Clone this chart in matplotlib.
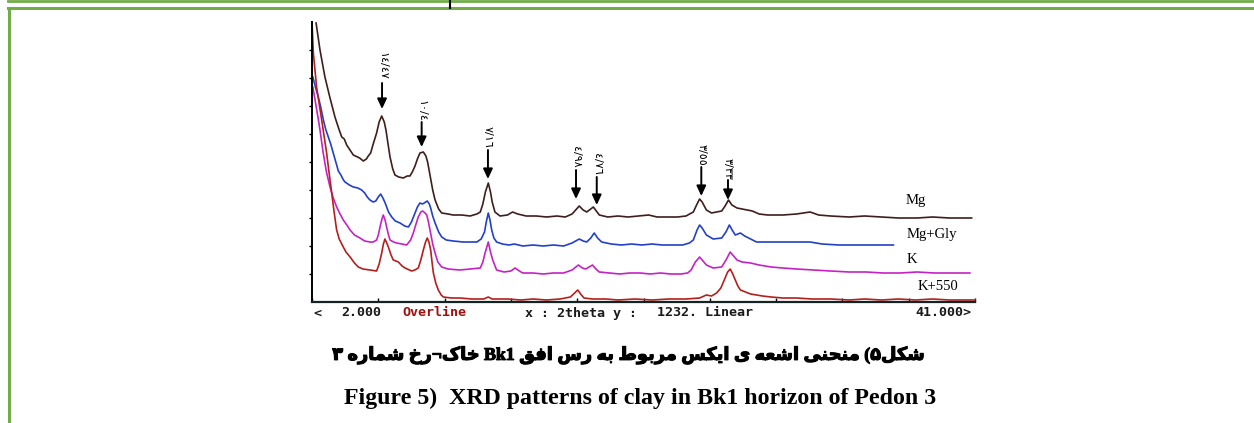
import matplotlib
matplotlib.use("Agg")
import matplotlib.pyplot as plt
from matplotlib.lines import Line2D
import matplotlib.patheffects as pe

# 2theta / intensity (intensity in screen units, 0 = x axis)
mg_tth = [2.24, 2.47, 2.76, 3.06, 3.35, 3.6, 3.75, 3.9, 4.04, 4.43, 4.8, 5.02, 5.2, 5.31, 5.45, 5.6,
          5.8, 5.95, 6.1, 6.25, 6.35, 6.5, 6.59, 6.75, 6.88, 7.1, 7.37, 7.6, 7.76, 7.9, 8.06, 8.2,
          8.35, 8.55, 8.7, 8.8, 8.94, 9.1, 9.24, 9.45, 9.63, 10.0, 10.3, 10.8, 11.3, 11.7, 11.9, 12.05,
          12.2, 12.37, 12.5, 12.6, 12.76, 13.06, 13.5, 13.8, 14.1, 14.6, 15.2, 15.8, 16.4, 16.9, 17.3,
          17.72, 17.95, 18.16, 18.55, 18.9, 19.4, 20.0, 20.6, 21.2, 21.8, 22.3, 22.9, 23.5, 24.0, 24.43,
          24.65, 24.8, 24.95, 25.2, 25.5, 25.8, 26.1, 26.3, 26.5, 26.7, 27.0, 27.3, 27.6, 27.9, 28.3,
          28.8, 29.7, 30.5, 31.3, 31.8, 32.5, 33.6, 34.5, 35.5, 36.5, 37.6, 38.5, 39.5, 40.5, 40.8]
mg_int = [279, 252, 225, 204, 185, 172, 165, 163, 157, 147, 144, 141, 143, 146, 149, 158,
          169, 180, 186, 180, 172, 155, 145, 133, 127, 125, 124, 126, 126, 130, 136, 143,
          149, 150, 146, 140, 127, 112, 102, 93, 89, 88, 87, 87, 86, 88, 90, 98,
          110, 119, 110, 100, 90, 86, 87, 90, 88, 86, 86, 85, 86, 85, 88,
          96, 92, 90, 95, 87, 85, 86, 85, 86, 87, 85, 85, 85, 86, 90,
          98, 103, 100, 92, 89, 90, 91, 96, 102, 97, 94, 93, 92, 91, 88,
          87, 87, 88, 90, 87, 86, 85, 86, 85, 84, 84, 85, 84, 84, 84]

gly_tth = [2.05, 2.2, 2.37, 2.5, 2.67, 2.8, 2.96, 3.1, 3.25, 3.4, 3.55, 3.7, 3.85, 3.94, 4.2, 4.43,
           4.7, 4.92, 5.1, 5.25, 5.41, 5.6, 5.75, 5.9, 6.04, 6.2, 6.35, 6.5, 6.69, 6.9, 7.18, 7.45,
           7.67, 7.85, 8.06, 8.2, 8.35, 8.5, 8.6, 8.78, 8.9, 8.98, 9.1, 9.24, 9.45, 9.63, 9.9, 10.3,
           10.9, 11.4, 11.7, 11.95, 12.15, 12.25, 12.37, 12.47, 12.57, 12.7, 12.86, 13.2, 13.6, 13.9,
           14.4, 15.0, 15.6, 16.2, 16.8, 17.3, 17.72, 17.95, 18.16, 18.4, 18.6, 18.8, 19.04, 19.6,
           20.2, 20.8, 21.4, 22.0, 22.6, 23.2, 23.8, 24.2, 24.43, 24.65, 24.8, 24.95, 25.2, 25.6,
           26.1, 26.35, 26.55, 26.75, 26.9, 27.2, 27.45, 27.8, 28.15, 29.0, 30.0, 31.3, 32.0, 33.0,
           34.0, 35.0, 36.2]
gly_int = [225, 215, 205, 196, 182, 173, 165, 158, 149, 140, 131, 127, 122, 120, 117, 115,
           114, 112, 109, 105, 102, 100, 101, 105, 108, 103, 97, 90, 85, 81, 79, 76,
           75, 80, 89, 95, 99, 98, 99, 101, 98, 94, 86, 79, 70, 65, 62, 61,
           60, 60, 60, 63, 70, 80, 89, 82, 72, 64, 60, 58, 57, 58,
           56, 57, 56, 57, 56, 59, 63, 61, 60, 64, 69, 64, 60, 58,
           57, 58, 57, 58, 57, 57, 57, 59, 62, 72, 77, 74, 67, 63,
           64, 70, 77, 71, 67, 69, 66, 63, 60, 60, 60, 60, 58, 57,
           57, 57, 57]

k_tth = [2.05, 2.2, 2.35, 2.47, 2.65, 2.85, 3.06, 3.25, 3.45, 3.65, 3.84, 4.05, 4.24, 4.5, 4.82, 5.1,
         5.41, 5.6, 5.8, 5.9, 6.0, 6.1, 6.19, 6.3, 6.39, 6.5, 6.59, 6.8, 6.98, 7.3, 7.57, 7.8,
         7.96, 8.1, 8.25, 8.4, 8.51, 8.65, 8.75, 8.85, 8.94, 9.1, 9.24, 9.4, 9.63, 10.0, 10.7, 11.3,
         11.9, 12.05, 12.18, 12.37, 12.5, 12.63, 12.86, 13.3, 13.7, 13.94, 14.2, 14.4, 15.0, 15.6,
         16.2, 16.8, 17.3, 17.67, 17.9, 18.1, 18.3, 18.5, 18.7, 18.9, 19.5, 20.1, 20.7, 21.3, 21.9,
         22.5, 23.1, 23.7, 24.1, 24.3, 24.55, 24.8, 25.0, 25.2, 25.6, 26.1, 26.35, 26.6, 26.8, 27.0,
         27.3, 27.8, 28.3, 29.0, 29.7, 30.5, 31.5, 32.5, 33.6, 34.6, 35.6, 36.6, 37.6, 38.6, 39.6, 40.7]
k_int = [215, 200, 185, 172, 150, 130, 115, 104, 95, 88, 82, 77, 72, 67, 64, 61,
         60, 60, 62, 67, 75, 82, 87, 82, 75, 67, 62, 60, 59, 58, 57, 62,
         69, 77, 85, 90, 91, 89, 87, 80, 72, 58, 49, 40, 35, 33, 32, 33,
         34, 40, 49, 60, 50, 42, 32, 30, 31, 34, 31, 29, 29, 28,
         29, 29, 32, 37, 34, 33, 35, 37, 33, 30, 29, 28, 29, 29, 28,
         29, 28, 28, 29, 32, 40, 45, 41, 37, 34, 35, 42, 50, 46, 42,
         40, 39, 37, 35, 34, 33, 32, 31, 30, 30, 29, 29, 30, 29, 29, 29]

k550_tth = [2.0, 2.08, 2.27, 2.57, 2.86, 3.0, 3.16, 3.3, 3.45, 3.6, 3.84, 4.0, 4.24, 4.5, 4.72, 5.0,
            5.41, 5.8, 5.95, 6.1, 6.2, 6.29, 6.4, 6.49, 6.65, 6.78, 7.08, 7.3, 7.47, 7.86, 8.05, 8.25,
            8.4, 8.55, 8.68, 8.78, 8.88, 8.98, 9.06, 9.14, 9.28, 9.43, 9.6, 9.73, 10.2, 10.7, 11.4,
            12.1, 12.37, 12.6, 12.86, 13.5, 14.3, 15.0, 15.8, 16.6, 17.2, 17.45, 17.63, 17.8, 18.0,
            18.5, 19.3, 20.0, 21.0, 22.0, 23.0, 24.0, 24.8, 25.2, 25.5, 25.8, 26.05, 26.25, 26.45,
            26.6, 26.75, 26.9, 27.05, 27.2, 27.5, 27.8, 28.5, 29.0, 29.7, 30.5, 31.4, 32.5, 33.6,
            34.5, 35.5, 36.5, 37.5, 38.5, 39.5, 40.5, 41.0]
k550_int = [280, 249, 215, 182, 149, 130, 109, 90, 72, 63, 55, 50, 45, 39, 35, 33,
            32, 31, 38, 49, 58, 63, 59, 55, 47, 42, 40, 36, 34, 31, 32, 34,
            42, 52, 60, 64, 60, 52, 40, 29, 19, 12, 7, 5, 4, 4, 3,
            3, 5, 3, 3, 3, 2, 3, 2, 3, 5, 9, 12, 8, 4,
            3, 3, 2, 3, 2, 3, 3, 4, 7, 6, 9, 14, 22, 30,
            33, 28, 22, 16, 12, 10, 8, 6, 5, 4, 4, 3, 3, 2,
            3, 2, 3, 2, 3, 2, 2, 2]

series_names = ["Mg", "Mg+Gly", "K", "K+550"]
series_colors = ["#3e1f1d", "#2340c8", "#c423c4", "#b3201e"]
name_x = [36.9, 36.95, 36.95, 37.6]
name_y = [102, 68, 43, 16]

# d-spacings (Persian labels) and arrow positions: 2theta, tail, tip
peak_labels = ["١٤/٤٧", "١٠/٤", "٧/١٦", "٤/٩٨", "٤/٧٦", "٣/٥٥", "٣/٣٣"]
peak_tth = [6.12, 8.45, 12.35, 17.53, 18.75, 24.9, 26.47]
arrow_tail = [219, 180, 152, 132, 125, 135, 122]
arrow_tip = [193, 155, 123, 103, 97, 106, 102]
label_y = [236, 191, 165, 145, 138, 147, 133]

caption_fa = "شکل۵) منحنی اشعه ی ایکس مربوط به رس افق Bk1 خاک¬رخ شماره ۳"
caption_en = "Figure 5)  XRD patterns of clay in Bk1 horizon of Pedon 3"

# minimal arabic shaping: isolated, final, initial, medial
FORMS = {
    "ا": ("\uFE8D", "\uFE8E", None, None),
    "ب": ("\uFE8F", "\uFE90", "\uFE91", "\uFE92"),
    "ح": ("\uFEA1", "\uFEA2", "\uFEA3", "\uFEA4"),
    "خ": ("\uFEA5", "\uFEA6", "\uFEA7", "\uFEA8"),
    "ر": ("\uFEAD", "\uFEAE", None, None),
    "س": ("\uFEB1", "\uFEB2", "\uFEB3", "\uFEB4"),
    "ش": ("\uFEB5", "\uFEB6", "\uFEB7", "\uFEB8"),
    "ط": ("\uFEC1", "\uFEC2", "\uFEC3", "\uFEC4"),
    "ع": ("\uFEC9", "\uFECA", "\uFECB", "\uFECC"),
    "ف": ("\uFED1", "\uFED2", "\uFED3", "\uFED4"),
    "ق": ("\uFED5", "\uFED6", "\uFED7", "\uFED8"),
    "ل": ("\uFEDD", "\uFEDE", "\uFEDF", "\uFEE0"),
    "م": ("\uFEE1", "\uFEE2", "\uFEE3", "\uFEE4"),
    "ن": ("\uFEE5", "\uFEE6", "\uFEE7", "\uFEE8"),
    "ه": ("\uFEE9", "\uFEEA", "\uFEEB", "\uFEEC"),
    "و": ("\uFEED", "\uFEEE", None, None),
    "ک": ("\uFB8E", "\uFB8F", "\uFB90", "\uFB91"),
    "ی": ("\uFBFC", "\uFBFD", "\uFBFE", "\uFBFF"),
}
MIRROR = str.maketrans("()", ")(")


def shape_word(word):
    out = []
    for i, ch in enumerate(word):
        f = FORMS.get(ch)
        if f is None:
            out.append(ch)
            continue
        prev = word[i - 1] if i > 0 else ""
        nxt = word[i + 1] if i + 1 < len(word) else ""
        jp = prev in FORMS and FORMS[prev][2] is not None
        jn = f[2] is not None and nxt in FORMS
        if jp and jn:
            out.append(f[3])
        elif jp:
            out.append(f[1])
        elif jn:
            out.append(f[2])
        else:
            out.append(f[0])
    return "".join(out)


def rtl(text):
    vis = []
    for w in text.split(" "):
        if w.isascii():
            vis.append(w)
        else:
            vis.append(shape_word(w)[::-1].translate(MIRROR))
    return " ".join(reversed(vis))


W, H = 1254, 423
fig = plt.figure(figsize=(W / 100, H / 100), dpi=100)


def fx(px):
    return px / W


def fy(py):
    return 1 - py / H


ax = fig.add_axes([fx(312), fy(302), fx(975) - fx(312), fy(22) - fy(302)])
ax.set_xlim(2, 41)
ax.set_ylim(0, 280)

all_tth = [mg_tth, gly_tth, k_tth, k550_tth]
all_int = [mg_int, gly_int, k_int, k550_int]
for tth, inten, c in zip(all_tth, all_int, series_colors):
    ax.plot(tth, inten, color=c, lw=1.2, clip_on=False)

for name, x, y in zip(series_names, name_x, name_y):
    ax.text(x, y, name, family="Liberation Serif", fontsize=10.5, va="center", ha="left")

for lab, x, t0, t1, ly in zip(peak_labels, peak_tth, arrow_tail, arrow_tip, label_y):
    ax.annotate("", xy=(x, t1), xytext=(x, t0),
                arrowprops=dict(arrowstyle="-|>,head_length=0.6,head_width=0.28",
                                color="black", lw=1.4, shrinkA=0, shrinkB=0))
    ax.text(x, ly, lab, rotation=270, ha="center", va="center", fontsize=8,
            family="DejaVu Sans")

for s in ["top", "right"]:
    ax.spines[s].set_visible(False)
ax.spines["left"].set_linewidth(1.4)
ax.spines["bottom"].set_linewidth(1.6)
ax.spines["bottom"].set_color("#142424")
ax.set_xticks([2 + 3.9 * i for i in range(11)])
ax.set_yticks([28 * i for i in range(1, 10)])
ax.tick_params(axis="x", direction="in", length=3, width=1, labelbottom=False)
ax.tick_params(axis="y", direction="out", length=2.5, width=1, labelleft=False)
ax.patch.set_alpha(0)

# status line under the scan
mono = dict(family="DejaVu Sans Mono", fontsize=9.6, weight="bold", va="center", ha="left", color="#1a1a1a")
fig.text(fx(313), fy(313), "<", **mono)
fig.text(fx(341), fy(313), "2.000", **mono)
fig.text(fx(402), fy(313), "Overline", **{**mono, "color": "#a01010"})
fig.text(fx(525), fy(313), "x : 2theta y :", **mono)
fig.text(fx(657), fy(313), "1232. Linear", **mono)
fig.text(fx(915), fy(313), "41.000>", **mono)

fig.text(fx(629), fy(355), rtl(caption_fa), family=["Liberation Serif", "DejaVu Sans"],
         weight="bold", fontsize=12.8, ha="center", va="center",
         path_effects=[pe.withStroke(linewidth=0.8, foreground="black")])
fig.text(fx(640), fy(398), caption_en, family="Liberation Serif", weight="bold",
         fontsize=17.2, ha="center", va="center")

# green page frame
green = "#70ad47"
fig.add_artist(Line2D([fx(8), 1], [fy(1), fy(1)], color=green, lw=2, transform=fig.transFigure))
fig.add_artist(Line2D([fx(8), 1], [fy(8.5), fy(8.5)], color=green, lw=2.2, transform=fig.transFigure))
fig.add_artist(Line2D([fx(9), fx(9)], [fy(8.5), 0], color=green, lw=2.2, transform=fig.transFigure))
fig.add_artist(Line2D([fx(450), fx(450)], [fy(0), fy(8)], color="black", lw=1.5, transform=fig.transFigure))

fig.savefig("out.png", dpi=100)
